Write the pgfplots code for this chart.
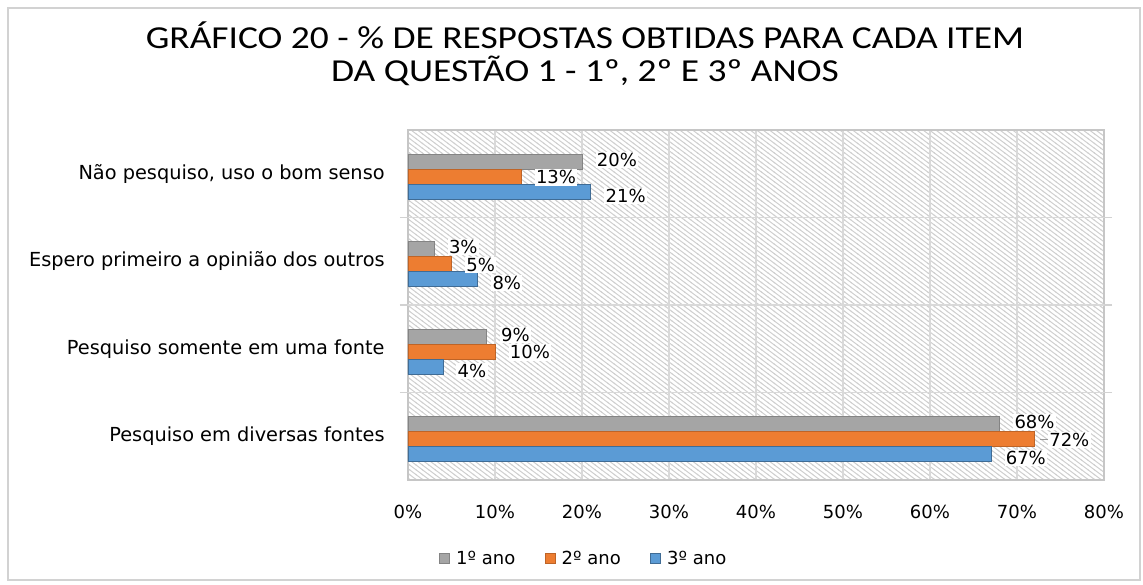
\documentclass[border=0pt]{standalone}
\usepackage{pgfplots}
\pgfplotsset{compat=1.18}
\usetikzlibrary{patterns}
\usepackage{fontspec}
\setmainfont{DejaVu Sans}
\newfontfamily\titlefont{Carlito}[FakeStretch=1.17]
\definecolor{cgray}{HTML}{A5A5A5}
\definecolor{corange}{HTML}{ED7D31}
\definecolor{cblue}{HTML}{5B9BD5}
\pgfdeclarepatternformonly{mydiag}{\pgfqpoint{-0.5pt}{-0.5pt}}{\pgfqpoint{5.3pt}{4.1pt}}{\pgfqpoint{4.8pt}{3.6pt}}{%
  \pgfsetlinewidth{0.75pt}%
  \pgfpathmoveto{\pgfqpoint{-0.48pt}{3.96pt}}%
  \pgfpathlineto{\pgfqpoint{5.28pt}{-0.36pt}}%
  \pgfusepath{stroke}%
}
\begin{document}
\begin{tikzpicture}
\useasboundingbox (0,0) rectangle (857.25pt,438.75pt);
\draw[gray!35, line width=0.8pt] (6pt,3.75pt) rectangle (855pt,432.75pt);
\node[font=\titlefont\fontsize{24}{28}\selectfont] at (438.75pt,412.5pt) {GRÁFICO 20 - \% DE RESPOSTAS OBTIDAS PARA CADA ITEM};
\node[font=\titlefont\fontsize{24}{28}\selectfont] at (438.75pt,385.5pt) {DA QUESTÃO 1 - 1º, 2º E 3º ANOS};
\begin{axis}[
  at={(306pt,78.75pt)}, anchor=south west,
  scale only axis, width=522pt, height=262.5pt,
  xbar, bar width=11.25pt,
  xmin=0, xmax=80, ymin=-0.5, ymax=3.5,
  xtick={0,10,...,80},
  xticklabel={\pgfmathprintnumber{\tick}\%},
  /pgf/number format/assume math mode=true,
  xtick style={draw=none},
  xticklabel style={font=\fontsize{13.5}{16}\selectfont, yshift=-15pt},
  ytick={0,1,2,3},
  yticklabels={{Pesquiso em diversas fontes}, {Pesquiso somente em uma fonte}, {Espero primeiro a opinião dos outros}, {Não pesquiso, uso o bom senso}},
  yticklabel style={font=\fontsize{14.5}{17}\selectfont, xshift=-14pt},
  major tick length=0pt,
  extra y ticks={0.5,1.5,2.5},
  extra y tick labels={},
  extra y tick style={ymajorgrids, major tick length=6pt, tick align=outside, tick style={gray!35, line width=0.8pt}},
  xmajorgrids,
  grid style={gray!30, line width=0.8pt},
  axis line style={gray!45, line width=0.8pt},
  axis background/.style={pattern=mydiag, pattern color=gray!38},
  nodes near coords={\pgfmathprintnumber{\pgfplotspointmeta}\%},
  point meta=x,
  every node near coord/.append style={font=\fontsize{13.5}{16}\selectfont, anchor=west, xshift=10pt, fill=white, inner sep=1pt, text=black},
  legend style={at={(0.253,-0.2257)}, anchor=center, draw=none, fill=none, legend columns=3,
    font=\fontsize{13.5}{16}\selectfont,
    /tikz/every odd column/.append style={column sep=3pt},
    /tikz/every even column/.append style={column sep=20pt}},
  legend image code/.code={\draw[#1] (0cm,-0.12cm) rectangle (0.26cm,0.14cm);},
]
\addplot[fill=cgray, draw=cgray!80!black, bar shift=9pt,
  every node near coord/.append style={yshift=1.5pt}] coordinates {(68,0) (9,1) (3,2) (20,3)};
\addplot[fill=corange, draw=corange!80!black, bar shift=-2.25pt,
  every node near coord/.append style={yshift=-0.5pt}] coordinates {(72,0) (10,1) (5,2) (13,3)};
\addplot[fill=cblue, draw=cblue!70!black, bar shift=-13.5pt,
  every node near coord/.append style={yshift=-3pt}] coordinates {(67,0) (4,1) (8,2) (21,3)};
\legend{1º ano, 2º ano, 3º ano}
\draw[gray!80, line width=0.6pt] ([xshift=4pt,yshift=-2.25pt]axis cs:72,0) -- ([xshift=10.5pt,yshift=-2.25pt]axis cs:72,0);
\end{axis}
\end{tikzpicture}
\end{document}
